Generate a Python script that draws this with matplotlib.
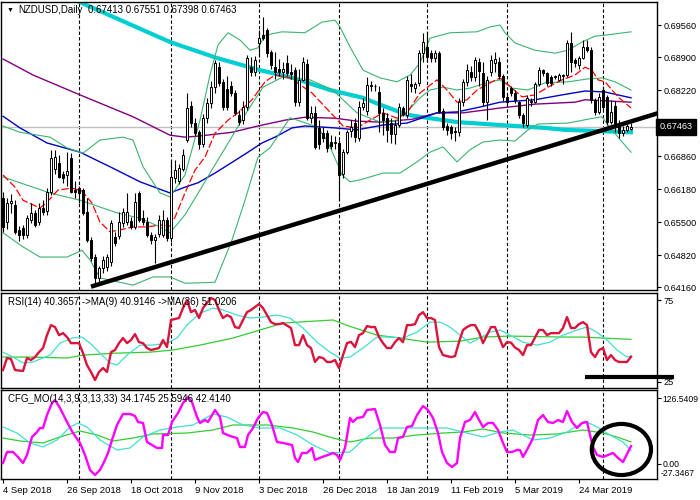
import matplotlib
matplotlib.use("Agg")
import matplotlib.pyplot as plt
import matplotlib.transforms as mtransforms
from matplotlib.patches import Ellipse
import numpy as np

plt.rcParams['font.family'] = ['Liberation Sans', 'DejaVu Sans']

# NZDUSD daily candles, bar 0 = 4 Sep 2018
opens = [0.6600, 0.6550, 0.6589, 0.6585, 0.6534, 0.6538, 0.6524, 0.6554, 0.6569, 0.6550,
         0.6580, 0.6572, 0.6612, 0.6660, 0.6672, 0.6650, 0.6647, 0.6682, 0.6616, 0.6620,
         0.6616, 0.6570, 0.6513, 0.6478, 0.6435, 0.6455, 0.6458, 0.6468, 0.6520, 0.6522,
         0.6548, 0.6550, 0.6552, 0.6540, 0.6610, 0.6558, 0.6550, 0.6524, 0.6514, 0.6525,
         0.6524, 0.6555, 0.6518, 0.6640, 0.6635, 0.6660, 0.6720, 0.6790, 0.6755, 0.6735,
         0.6710, 0.6765, 0.6795, 0.6828, 0.6870, 0.6838, 0.6825, 0.6830, 0.6816, 0.6771,
         0.6760, 0.6787, 0.6870, 0.6860, 0.6918, 0.6935, 0.6945, 0.6900, 0.6870, 0.6865,
         0.6860, 0.6877, 0.6860, 0.6863, 0.6797, 0.6843, 0.6875, 0.6765, 0.6775, 0.6744,
         0.6733, 0.6733, 0.6715, 0.6712, 0.6713, 0.6650, 0.6694, 0.6738, 0.6755, 0.6723,
         0.6787, 0.6778, 0.6830, 0.6830, 0.6818, 0.6775, 0.6765, 0.6755, 0.6731, 0.6750,
         0.6785, 0.6770, 0.6834, 0.6826, 0.6836, 0.6898, 0.6910, 0.6898, 0.6888, 0.6898,
         0.6778, 0.6748, 0.6745, 0.6738, 0.6735, 0.6797, 0.6838, 0.6860, 0.6848, 0.6880,
         0.6857, 0.6797, 0.6860, 0.6878, 0.6880, 0.6850, 0.6808, 0.6826, 0.6816, 0.6797,
         0.6771, 0.6750, 0.6797, 0.6797, 0.6835, 0.6863, 0.6857, 0.6848, 0.6849, 0.6843,
         0.6850, 0.6853, 0.6918, 0.6884, 0.6874, 0.6888, 0.6910, 0.6905, 0.6801, 0.6777,
         0.6822, 0.6808, 0.6757, 0.6790, 0.6755, 0.6733, 0.6740, 0.67413]
highs = [0.6612, 0.6600, 0.6607, 0.6595, 0.6542, 0.6545, 0.6565, 0.6590, 0.6575, 0.6590,
         0.6595, 0.6620, 0.6699, 0.6699, 0.6688, 0.6655, 0.6694, 0.6692, 0.6635, 0.6625,
         0.6620, 0.6600, 0.6520, 0.6485, 0.6460, 0.6480, 0.6485, 0.6555, 0.6530, 0.6570,
         0.6580, 0.6610, 0.6560, 0.6610, 0.6615, 0.6575, 0.6560, 0.6530, 0.6525, 0.6565,
         0.6575, 0.6560, 0.6676, 0.6678, 0.6670, 0.6700, 0.6815, 0.6800, 0.6765, 0.6740,
         0.6772, 0.6805, 0.6840, 0.6884, 0.6880, 0.6845, 0.6850, 0.6840, 0.6822, 0.6780,
         0.6800, 0.6895, 0.6890, 0.6892, 0.6945, 0.6972, 0.6950, 0.6905, 0.6900, 0.6885,
         0.6880, 0.6895, 0.6875, 0.6870, 0.6865, 0.6890, 0.6885, 0.6790, 0.6790, 0.6760,
         0.6745, 0.6740, 0.6730, 0.6728, 0.6720, 0.6700, 0.6740, 0.6760, 0.6765, 0.6800,
         0.6805, 0.6848, 0.6840, 0.6835, 0.6830, 0.6785, 0.6775, 0.6765, 0.6760, 0.6795,
         0.6790, 0.6850, 0.6855, 0.6838, 0.6905, 0.6940, 0.6942, 0.6905, 0.6905, 0.6902,
         0.6785, 0.6755, 0.6750, 0.6745, 0.6805, 0.6845, 0.6875, 0.6872, 0.6890, 0.6888,
         0.6880, 0.6850, 0.6895, 0.6900, 0.6890, 0.6855, 0.6815, 0.6830, 0.6822, 0.6800,
         0.6775, 0.6812, 0.6805, 0.6838, 0.6870, 0.6866, 0.6860, 0.6852, 0.6853, 0.6858,
         0.6856, 0.6925, 0.6941, 0.6888, 0.6892, 0.6925, 0.6925, 0.6910, 0.6806, 0.6815,
         0.6830, 0.6812, 0.6802, 0.6800, 0.6760, 0.6748, 0.6752, 0.67551]
lows = [0.6530, 0.6535, 0.6568, 0.6526, 0.6512, 0.6515, 0.6518, 0.6548, 0.6540, 0.6545,
        0.6565, 0.6565, 0.6605, 0.6650, 0.6640, 0.6630, 0.6625, 0.6610, 0.6600, 0.6589,
        0.6565, 0.6510, 0.6470, 0.6425, 0.6422, 0.6445, 0.6450, 0.6460, 0.6500, 0.6515,
        0.6540, 0.6545, 0.6535, 0.6535, 0.6550, 0.6545, 0.6520, 0.6505, 0.6466, 0.6520,
        0.6520, 0.6512, 0.6510, 0.6630, 0.6628, 0.6655, 0.6715, 0.6745, 0.6728, 0.6700,
        0.6705, 0.6755, 0.6785, 0.6815, 0.6830, 0.6780, 0.6780, 0.6810, 0.6770, 0.6750,
        0.6752, 0.6780, 0.6850, 0.6850, 0.6890, 0.6925, 0.6890, 0.6865, 0.6845, 0.6850,
        0.6845, 0.6850, 0.6845, 0.6790, 0.6790, 0.6840, 0.6760, 0.6755, 0.6700, 0.6700,
        0.6715, 0.6695, 0.6700, 0.6700, 0.6595, 0.6640, 0.6690, 0.6725, 0.6715, 0.6718,
        0.6780, 0.6770, 0.6820, 0.6820, 0.6735, 0.6730, 0.6715, 0.6713, 0.6710, 0.6745,
        0.6768, 0.6765, 0.6818, 0.6815, 0.6830, 0.6880, 0.6880, 0.6880, 0.6880, 0.6775,
        0.6740, 0.6730, 0.6722, 0.6718, 0.6728, 0.6790, 0.6830, 0.6840, 0.6840, 0.6830,
        0.6790, 0.6760, 0.6850, 0.6860, 0.6845, 0.6800, 0.6790, 0.6810, 0.6795, 0.6765,
        0.6745, 0.6745, 0.6790, 0.6795, 0.6830, 0.6850, 0.6830, 0.6830, 0.6845, 0.6840,
        0.6835, 0.6848, 0.6860, 0.6870, 0.6865, 0.6885, 0.6900, 0.6795, 0.6770, 0.6772,
        0.6780, 0.6750, 0.6752, 0.6735, 0.6723, 0.6728, 0.6735, 0.67398]
closes = [0.6540, 0.6590, 0.6593, 0.6530, 0.6524, 0.6524, 0.6558, 0.6569, 0.6545, 0.6579,
          0.6570, 0.6612, 0.6682, 0.6685, 0.6643, 0.6640, 0.6655, 0.6612, 0.6612, 0.6610,
          0.6569, 0.6513, 0.6475, 0.6435, 0.6455, 0.6472, 0.6478, 0.6548, 0.6507, 0.6550,
          0.6570, 0.6570, 0.6540, 0.6592, 0.6555, 0.6550, 0.6524, 0.6513, 0.6520, 0.6554,
          0.6555, 0.6518, 0.6643, 0.6657, 0.6662, 0.6688, 0.6786, 0.6754, 0.6734, 0.6710,
          0.6765, 0.6795, 0.6828, 0.6877, 0.6837, 0.6787, 0.6787, 0.6816, 0.6775, 0.6757,
          0.6787, 0.6888, 0.6860, 0.6884, 0.6930, 0.6930, 0.6898, 0.6873, 0.6860, 0.6860,
          0.6865, 0.6857, 0.6855, 0.6797, 0.6843, 0.6880, 0.6765, 0.6775, 0.6705, 0.6710,
          0.6723, 0.6703, 0.6706, 0.6716, 0.6647, 0.6694, 0.6735, 0.6745, 0.6725, 0.6787,
          0.6795, 0.6833, 0.6832, 0.6830, 0.6775, 0.6761, 0.6740, 0.6731, 0.6750, 0.6787,
          0.6772, 0.6843, 0.6830, 0.6835, 0.6898, 0.6920, 0.6890, 0.6888, 0.6898, 0.6778,
          0.6746, 0.6740, 0.6733, 0.6735, 0.6797, 0.6838, 0.6863, 0.6848, 0.6884, 0.6862,
          0.6797, 0.6843, 0.6884, 0.6885, 0.6850, 0.6808, 0.6797, 0.6816, 0.6802, 0.6771,
          0.6755, 0.6805, 0.6800, 0.6834, 0.6863, 0.6857, 0.6836, 0.6836, 0.6850, 0.6853,
          0.6853, 0.6918, 0.6880, 0.6877, 0.6888, 0.6910, 0.6905, 0.6801, 0.6777, 0.6808,
          0.6787, 0.6757, 0.6777, 0.6745, 0.6733, 0.6740, 0.6748, 0.67463]

# indicator lines on the price panel (bar position, price)
ma200_x = [14.25, 19.25, 41.75, 53.5, 64.25, 72.5, 81.75, 90, 94.25, 101, 106.75, 113.5,
           124.25, 135.5, 140.5, 147.25, 157]
ma200_y = [0.7022, 0.7003, 0.6921, 0.6888, 0.6863, 0.6847, 0.6822, 0.6806, 0.6792, 0.6771,
           0.6764, 0.6756, 0.6750, 0.6744, 0.6740, 0.6738, 0.6735]
ma100_x = [0, 7.5, 19.25, 32.5, 41.75, 45.5, 48.75, 57.25, 63.75, 70.5, 75.5, 83, 88.5, 94.25,
           102.5, 108.5, 115, 124.25, 133, 143, 145.5, 157]
ma100_y = [0.6886, 0.6853, 0.6812, 0.6767, 0.6729, 0.6725, 0.6727, 0.6735, 0.6748, 0.6760,
           0.6766, 0.6764, 0.6758, 0.6756, 0.6762, 0.6775, 0.6775, 0.6785, 0.6793, 0.6797,
           0.6802, 0.6797]
ma50_x = [0, 4.25, 11, 19.25, 26.75, 34.25, 41.75, 45.5, 48.75, 53, 57.25, 61.25, 64.75, 68,
          72.25, 75.5, 83, 88.5, 95, 101, 108.5, 113.5, 119.25, 124.25, 133, 139.75, 145.5,
          150.5, 157]
ma50_y = [0.6768, 0.6744, 0.6713, 0.6694, 0.6664, 0.6633, 0.6610, 0.6622, 0.6631, 0.6651,
          0.6673, 0.6694, 0.6713, 0.6725, 0.6744, 0.6748, 0.6744, 0.6740, 0.6750, 0.6754,
          0.6775, 0.6777, 0.6787, 0.6797, 0.6802, 0.6812, 0.6820, 0.6818, 0.6806]
ma_fast_x = [0, 3, 5, 9.25, 11, 13.75, 17.25, 19.75, 22.25, 24.25, 26.75, 29.25, 32.5, 36,
             39.25, 41.75, 43, 45.5, 48, 50.5, 53, 56.25, 58.75, 62.25, 65.5, 68, 71.75,
             74.25, 77.25, 81.25, 85, 88.5, 91.75, 95, 98.5, 101, 104.25, 108.5, 111, 113.5,
             116, 118.5, 121.75, 124.25, 126.25, 129.75, 133, 136.25, 139.75, 143, 145.5,
             147.25, 148.75, 150.5, 153.75, 157]
ma_fast_y = [0.6647, 0.6622, 0.6595, 0.6579, 0.6591, 0.6616, 0.6620, 0.6614, 0.6589, 0.6550,
             0.6530, 0.6534, 0.6540, 0.6540, 0.6544, 0.6542, 0.6560, 0.6610, 0.6657, 0.6684,
             0.6733, 0.6760, 0.6775, 0.6802, 0.6839, 0.6853, 0.6847, 0.6833, 0.6816, 0.6781,
             0.6748, 0.6744, 0.6760, 0.6775, 0.6764, 0.6775, 0.6816, 0.6843, 0.6822, 0.6797,
             0.6802, 0.6822, 0.6837, 0.6847, 0.6833, 0.6808, 0.6812, 0.6828, 0.6843, 0.6853,
             0.6869, 0.6863, 0.6843, 0.6839, 0.6808, 0.6785]
bb_up_x = [0, 4.25, 11.75, 16, 20, 24.25, 30, 32.5, 35, 39.25, 41.75, 45.5, 49.25, 51.75,
           53.75, 56.25, 59.25, 61.75, 63.75, 65.5, 69.75, 75.5, 79.75, 83, 84.25, 86.75, 90,
           94.25, 98.5, 101.75, 104.25, 106.75, 111.75, 118.5, 121.75, 124.25, 125.5, 128,
           133, 138, 141.25, 144.75, 148, 150.5, 157]
bb_up_y = [0.6748, 0.6735, 0.6725, 0.6703, 0.6692, 0.6719, 0.6725, 0.6719, 0.6664, 0.6610,
           0.6602, 0.6647, 0.6760, 0.6853, 0.6915, 0.6940, 0.6925, 0.6904, 0.6909, 0.6935,
           0.6942, 0.6940, 0.6962, 0.6966, 0.6952, 0.6911, 0.6863, 0.6847, 0.6839, 0.6853,
           0.6878, 0.6929, 0.6940, 0.6942, 0.6952, 0.6956, 0.6940, 0.6919, 0.6904, 0.6898,
           0.6904, 0.6921, 0.6933, 0.6935, 0.6942]
bb_mid_x = [0, 4.25, 11.75, 19.25, 24.25, 28.5, 34.25, 39.25, 41.75, 45.5, 49.25, 53, 56.75,
            60.5, 65, 70, 76.75, 82.5, 85, 88.5, 94.25, 98.5, 101, 104.25, 106.75, 110, 113.5,
            116.75, 121, 124.25, 127.25, 131.25, 135.5, 141.25, 146.25, 149.75, 153, 157]
bb_mid_y = [0.6643, 0.6631, 0.6610, 0.6595, 0.6581, 0.6569, 0.6558, 0.6540, 0.6528, 0.6565,
            0.6616, 0.6668, 0.6719, 0.6771, 0.6828, 0.6849, 0.6843, 0.6822, 0.6802, 0.6775,
            0.6756, 0.6760, 0.6777, 0.6806, 0.6822, 0.6828, 0.6822, 0.6826, 0.6837, 0.6843,
            0.6826, 0.6822, 0.6837, 0.6839, 0.6845, 0.6847, 0.6839, 0.6822]
bb_low_x = [0, 5, 9.25, 16, 19.75, 21.75, 24.25, 32.5, 37.5, 41.75, 45.5, 53, 57.25, 60.5,
            63.75, 66.75, 71.75, 75, 78.5, 81, 83.5, 84.75, 86.75, 89.25, 95, 99.25, 103.5,
            106.75, 110, 113.5, 116.75, 120, 124.25, 128, 131.25, 133.75, 141.25, 146.25,
            149.75, 151.25, 153.75, 157]
bb_low_y = [0.6528, 0.6499, 0.6478, 0.6478, 0.6492, 0.6472, 0.6435, 0.6420, 0.6437, 0.6437,
            0.6424, 0.6426, 0.6513, 0.6595, 0.6684, 0.6703, 0.6765, 0.6756, 0.6746, 0.6719,
            0.6672, 0.6647, 0.6633, 0.6637, 0.6651, 0.6651, 0.6674, 0.6694, 0.6705, 0.6674,
            0.6699, 0.6715, 0.6719, 0.6717, 0.6740, 0.6752, 0.6754, 0.6762, 0.6767, 0.6750,
            0.6725, 0.6694]
trend_x = [22, 164]
trend_y = [0.6417, 0.6775]
last_price = 0.67463

# RSI(14) with MA(9) and MA(36)
rsi_x = [0, 1, 2, 3, 5, 6, 7, 8, 9, 10, 11, 12, 13, 14, 15, 16, 17, 19, 20, 21, 22, 23, 24,
         25, 26, 27, 28, 29, 30, 31, 32, 33, 34, 35, 36, 37, 39, 40, 41, 42, 43, 44, 45, 46,
         47, 48, 49, 50, 52, 53, 54, 55, 56, 57, 58, 59, 60, 61, 62, 64, 65, 66, 67, 68, 69,
         70, 72, 73, 74, 75, 76, 77, 78, 79, 80, 81, 82, 83, 84, 85, 86, 87, 88, 89, 90, 91,
         92, 93, 94, 95, 96, 97, 98, 99, 100, 101, 102, 103, 104, 105, 106, 107, 108, 109,
         110, 112, 113, 114, 115, 116, 117, 118, 119, 120, 121, 122, 123, 124, 125, 126, 127,
         128, 129, 130, 131, 132, 134, 135, 136, 137, 139, 140, 141, 142, 143, 144, 145, 146,
         147, 148, 149, 150, 151, 152, 153, 154, 156, 157]
rsi_v = [32.3, 39.6, 39.0, 32.3, 31.7, 39.6, 38.4, 40.2, 43.2, 45.7, 53.6, 59.7, 58.5, 53.6,
         54.8, 52.4, 48.7, 48.7, 42.6, 35.3, 31.1, 26.2, 31.1, 33.5, 31.1, 43.2, 44.5, 48.7,
         51.8, 48.7, 50.6, 54.2, 49.3, 48.7, 45.7, 44.5, 45.7, 50.6, 46.3, 62.8, 63.4, 64.0,
         70.1, 75.0, 67.6, 68.9, 64.0, 70.1, 76.2, 75.0, 68.9, 64.0, 65.8, 64.6, 58.5, 57.9,
         62.8, 67.6, 68.9, 72.5, 70.1, 65.8, 61.5, 60.3, 60.3, 60.9, 57.9, 47.5, 47.5, 53.6,
         47.5, 45.7, 37.2, 40.2, 39.6, 37.2, 37.2, 38.4, 33.5, 41.4, 48.7, 49.5, 46.3, 53.6,
         54.8, 59.1, 58.5, 58.5, 52.4, 48.7, 45.7, 45.7, 49.3, 51.8, 49.3, 59.7, 59.7, 60.3,
         65.8, 67.6, 64.0, 64.0, 62.8, 46.3, 41.4, 40.2, 40.8, 49.3, 56.7, 58.5, 59.7, 59.7,
         55.4, 48.7, 53.6, 58.5, 58.5, 52.4, 46.3, 49.3, 49.0, 46.0, 44.5, 41.4, 47.5, 47.5,
         56.7, 56.7, 53.6, 54.8, 54.8, 57.9, 64.6, 57.9, 57.9, 60.3, 61.5, 59.7, 43.2, 40.2,
         44.5, 45.7, 38.4, 41.4, 38.4, 37.2, 37.2, 40.4]
rsi_ma9_x = [0, 2.5, 5, 7.5, 11.75, 14.25, 17.25, 19.75, 21.75, 24.25, 26.75, 28.5, 31,
             34.25, 37.5, 41, 43.5, 46, 49.25, 52.5, 55, 58.5, 61.75, 65, 68.5, 71.75, 75,
             78.5, 81.75, 84.25, 86.75, 90, 93.5, 96.75, 100, 103.5, 106.75, 109.25, 111.75,
             114.25, 116.75, 119.25, 121.75, 124.25, 126.75, 130, 133.5, 136.75, 140, 143.5,
             146, 148.5, 151, 153.5, 156, 157]
rsi_ma9_v = [43.2, 40.2, 36.6, 37.2, 41.4, 48.7, 51.8, 52.4, 48.7, 42.6, 36.6, 35.3, 41.4,
             47.5, 47.5, 48.7, 51.8, 59.7, 67.0, 70.1, 68.9, 65.8, 64.0, 64.6, 65.8, 64.0,
             57.9, 49.3, 43.2, 39.6, 40.2, 45.7, 52.4, 52.4, 51.8, 55.4, 61.5, 61.5, 58.5,
             53.6, 48.7, 51.8, 55.4, 56.7, 53.6, 49.3, 47.5, 49.3, 53.6, 56.7, 58.5, 55.4,
             50.6, 44.5, 40.2, 40.9]
rsi_ma36_x = [0, 7.5, 16, 20, 28.5, 36.75, 42.5, 49.25, 57.5, 64.25, 70, 77.5, 82.5, 86.5,
              93.5, 99.25, 106, 114.25, 120, 126.75, 140, 145, 150, 157]
rsi_ma36_v = [40.2, 40.2, 39.6, 41.4, 42.6, 43.2, 44.5, 47.5, 51.8, 56.7, 60.9, 62.1, 62.8,
              59.1, 53.6, 51.8, 49.3, 49.9, 52.4, 53.0, 52.4, 52.4, 51.8, 51.0]
rsi_mark_x = [145.5, 167.75]
rsi_mark_v = [28.0, 28.0]

# CFG_MO(14,3,9,3,13,33)
cfg_x = [0, 1, 2.5, 3.75, 5, 6, 7.25, 8.5, 9.25, 10, 11, 12.25, 13, 14.25, 16, 17.5, 19.25,
         20.5, 21.75, 23, 24.25, 25.5, 26.25, 27.25, 28.5, 30, 31.75, 33, 33.75, 35, 36,
         37.25, 38.5, 39.75, 40, 41.25, 42.25, 43.75, 45, 46.25, 47.25, 48.5, 49.25, 50.5,
         51.25, 53, 54.25, 55, 56.75, 58.5, 59.25, 60.5, 61.25, 62.5, 63.75, 65, 66, 67.25,
         68.5, 70, 72.25, 73, 73.75, 74.75, 76, 77.25, 78, 79.75, 81.25, 82.5, 83.5, 84.25,
         85.5, 86.75, 87.5, 88.5, 90, 91, 93, 94.25, 95.5, 96.75, 98, 98.75, 100, 101,
         102.25, 103.5, 105, 106.25, 107.5, 108.75, 109.75, 111, 112.25, 113.5, 114.25,
         115.5, 116.75, 118, 118.75, 120, 121.25, 122.5, 123.75, 125, 126, 127.25, 128.5,
         129.25, 130, 131.25, 132.5, 133.75, 135, 136.25, 137.5, 138.75, 140, 141, 142.25,
         143.5, 144.75, 146, 146.75, 147.5, 148.5, 150, 151.25, 152.5, 153.75, 155, 156.25,
         157]
cfg_v = [1.9, 23.0, 23.0, 13.4, 1.9, 17.3, 51.8, 61.3, 69.0, 69.0, 93.9, 116.9, 122.7,
         107.4, 80.5, 59.4, 40.3, 17.3, -11.5, -21.1, -11.5, 7.7, 21.1, 46.0, 74.8, 95.9,
         95.9, 92.0, 80.5, 78.6, 42.2, 36.4, 30.7, 30.7, 55.6, 55.6, 80.5, 97.8, 116.9, 128.4,
         118.8, 90.1, 78.6, 84.3, 80.5, 103.5, 90.1, 59.4, 53.7, 49.8, 32.6, 32.6, 55.6, 69.0,
         88.2, 99.7, 97.8, 74.8, 42.2, 40.3, 36.4, 11.5, 3.8, 21.1, 21.1, 30.7, 7.7, 13.4,
         17.3, 21.1, 17.3, 7.7, 30.7, 88.2, 80.5, 88.2, 90.1, 103.5, 105.4, 74.8, 36.4, 23.0,
         23.0, 49.8, 51.8, 70.9, 72.8, 93.9, 111.2, 103.5, 88.2, 59.4, 23.0, 1.9, -5.8, 1.9,
         49.8, 80.5, 84.3, 99.7, 88.2, 70.9, 78.6, 78.6, 65.2, 40.3, 23.0, 23.0, 26.8, 26.8,
         13.4, 30.7, 49.8, 84.3, 93.9, 80.5, 78.6, 84.3, 80.5, 101.6, 80.5, 69.0, 78.6, 80.5,
         55.6, 32.6, 17.3, 13.4, 17.3, 21.1, 11.5, 3.8, 23.0, 34.2]
cfg_sig_x = [0, 3.5, 6.75, 10, 13.5, 16.75, 18.75, 21, 24.25, 28.5, 31.75, 35, 39.25, 43.5,
             47.5, 52.5, 56, 60, 64.25, 69.25, 73.5, 77.5, 81.75, 86.75, 90, 94.25, 99.25, 106,
             111, 115, 120, 124.25, 127.5, 132.5, 136.75, 141, 145.5, 148.5, 151.75, 155, 157]
cfg_sig_v = [70.9, 59.4, 40.3, 32.6, 46.0, 70.9, 78.6, 70.9, 46.0, 26.8, 30.7, 51.8, 65.2,
             70.9, 74.8, 95.9, 90.1, 74.8, 69.0, 69.0, 55.6, 36.4, 21.1, 23.0, 46.0, 69.0, 69.0,
             69.0, 69.0, 61.3, 51.8, 61.3, 65.2, 46.0, 49.8, 61.3, 82.4, 70.9, 55.6, 42.2, 25.6]
cfg_slow_x = [0, 4.25, 10, 14.25, 19.25, 23.5, 27.5, 32.5, 37.5, 46, 52.5, 57.5, 66, 72.5,
              77.5, 82.5, 86.75, 91.75, 97.5, 103.5, 110, 115, 120, 125, 131.75, 138.5, 145,
              150, 153.5, 157]
cfg_slow_v = [49.8, 44.1, 40.3, 51.8, 63.3, 55.6, 44.1, 49.8, 57.5, 59.4, 65.2, 74.8, 74.8,
              69.0, 61.3, 49.8, 42.2, 49.8, 49.8, 55.6, 59.4, 61.3, 67.1, 59.4, 55.6, 57.5,
              65.2, 59.4, 51.8, 42.4]

separators = [19, 42, 64, 84, 106, 126, 150]
date_pos = [0, 16, 32, 48, 64, 80, 96, 112, 128, 144]
date_labels = ["4 Sep 2018", "26 Sep 2018", "18 Oct 2018", "9 Nov 2018", "3 Dec 2018",
               "26 Dec 2018", "18 Jan 2019", "11 Feb 2019", "5 Mar 2019", "24 Mar 2019"]
price_ticks = [0.69560, 0.68900, 0.68220, 0.67540, 0.66860, 0.66180, 0.65500, 0.64820, 0.64160]

fs = 6.6
W, H = 700, 500
fig = plt.figure(figsize=(7, 5), dpi=100)
ax = fig.add_axes([1 / W, 1 - 290 / H, 656 / W, 288 / H])
ax_rsi = fig.add_axes([1 / W, 1 - 388 / H, 656 / W, 95 / H], sharex=ax)
ax_cfg = fig.add_axes([1 / W, 1 - 479 / H, 656 / W, 89 / H], sharex=ax)

for a in (ax, ax_rsi, ax_cfg):
    for s in a.spines.values():
        s.set_linewidth(1.0)
        s.set_color("black")
    a.yaxis.tick_right()
    a.tick_params(axis="y", labelsize=fs, length=3, width=0.8, pad=1.5, colors="black")
    a.tick_params(axis="x", length=0, labelbottom=False)
    for sx in separators:
        a.axvline(sx, color="black", lw=0.8, ls=(0, (3, 2)), zorder=1)
a.set_xlim(-0.5, 163.5)

# price panel
idx = np.arange(len(closes))
o = np.array(opens)
c = np.array(closes)
ax.axhline(last_price, color="#c0c0c0", lw=1, zorder=1)
ax.plot(ma200_x, ma200_y, color="#00ced1", lw=3, zorder=2)
ax.plot(ma100_x, ma100_y, color="#800080", lw=1, zorder=2)
ax.plot(ma50_x, ma50_y, color="#0000cd", lw=1, zorder=2)
for bx, by in ((bb_up_x, bb_up_y), (bb_mid_x, bb_mid_y), (bb_low_x, bb_low_y)):
    ax.plot(bx, by, color="#3cb371", lw=0.8, zorder=2)
ax.plot(ma_fast_x, ma_fast_y, color="red", lw=0.9, ls=(0, (6, 2)), zorder=2)
ax.vlines(idx, lows, highs, color="black", lw=0.8, zorder=4)
ax.bar(idx, np.abs(c - o), bottom=np.minimum(o, c), width=0.6,
       color=np.where(c >= o, "white", "black"), edgecolor="black", lw=0.7, zorder=5)
ax.plot(trend_x, trend_y, color="black", lw=3.2, solid_capstyle="butt", zorder=8)
ax.set_ylim(0.64101, 0.70034)
ax.set_yticks(price_ticks)
ax.set_yticklabels([f"{p:.5f}" for p in price_ticks])
trans = mtransforms.blended_transform_factory(ax.transAxes, ax.transData)
ax.text(1.004, last_price, f"{last_price:.5f}", transform=trans, color="white", size=fs,
        va="center", ha="left", zorder=10, clip_on=False,
        bbox=dict(boxstyle="square,pad=0.35", fc="black", ec="black"))

fig.text(7 / W, 1 - 10 / H, "\u25bc", size=5, va="center", ha="left", color="black")
fig.text(18 / W, 1 - 10 / H, "NZDUSD,Daily", size=fs + 0.4, va="center", ha="left")
fig.text(88 / W, 1 - 10 / H, "0.67413 0.67551 0.67398 0.67463", size=fs + 0.4,
         va="center", ha="left")

# RSI panel
ax_rsi.plot(rsi_ma36_x, rsi_ma36_v, color="#32cd32", lw=0.9, zorder=2)
ax_rsi.plot(rsi_ma9_x, rsi_ma9_v, color="#40e0d0", lw=0.9, zorder=3)
ax_rsi.plot(rsi_x, rsi_v, color="#dc143c", lw=1.7, zorder=4)
ax_rsi.plot(rsi_mark_x, rsi_mark_v, color="black", lw=3, solid_capstyle="butt",
            clip_on=False, zorder=6)
ax_rsi.set_ylim(21.34, 79.27)
ax_rsi.set_yticks([75, 25])
ax_rsi.set_yticklabels(["75", "25"])
ax_rsi.text(7 / 656, 1 - 9 / 95, "RSI(14) 40.3657 ->MA(9) 40.9146 ->MA(36) 51.0206",
            transform=ax_rsi.transAxes, size=fs + 0.4, va="center", ha="left", zorder=7)

# CFG_MO panel
ax_cfg.plot(cfg_slow_x, cfg_slow_v, color="#32cd32", lw=0.9, zorder=2)
ax_cfg.plot(cfg_sig_x, cfg_sig_v, color="#40e0d0", lw=0.9, zorder=3)
ax_cfg.plot(cfg_x, cfg_v, color="#ff00ff", lw=1.7, zorder=4)
ax_cfg.add_patch(Ellipse((154.6, 27.8), 14.8, 98, fill=False, ec="black", lw=3,
                         clip_on=False, zorder=6))
ax_cfg.set_ylim(-28.8, 141.9)
ax_cfg.set_yticks([126.5409, 0])
ax_cfg.set_yticklabels(["126.5409", "0.00"])
ax_cfg.tick_params(axis="y", labelsize=fs - 0.4, pad=1)
ax_cfg.text(1.0 + 4 / 656, -17.3, "-27.3467", transform=mtransforms.blended_transform_factory(
    ax_cfg.transAxes, ax_cfg.transData), size=fs - 0.4, va="center", ha="left", clip_on=False)
ax_cfg.text(7 / 656, 1 - 9 / 89, "CFG_MO(14,3,9,3,13,33) 34.1745 25.5946 42.4140",
            transform=ax_cfg.transAxes, size=fs + 0.4, va="center", ha="left", zorder=7)
ax_cfg.set_xticks(date_pos)
ax_cfg.set_xticklabels(date_labels, ha="left")
ax_cfg.tick_params(axis="x", length=3, width=0.8, labelbottom=True, labelsize=fs + 0.2, pad=2)

fig.savefig("out.png", dpi=100, facecolor="white")
